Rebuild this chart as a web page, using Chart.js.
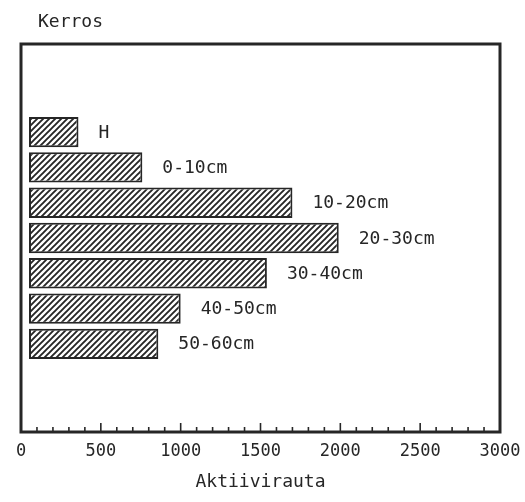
<!DOCTYPE html>
<html>
<head>
<meta charset="utf-8">
<script src="https://cdn.jsdelivr.net/npm/chart.js@4/dist/chart.umd.min.js"></script>
<style>
  html, body { margin: 0; padding: 0; background: #fff; }
  #wrap { width: 525px; height: 502px; }
</style>
</head>
<body>
<div id="wrap"><canvas id="chart" width="525" height="502"></canvas></div>
<script>
// Soil layers and their active iron content
const layers = ['H', '0-10cm', '10-20cm', '20-30cm', '30-40cm', '40-50cm', '50-60cm'];
const ironValues = [360, 760, 1700, 1990, 1540, 1000, 860];
const xTickValues = [0, 500, 1000, 1500, 2000, 2500, 3000];
const yTitle = 'Kerros';
const xTitle = 'Aktiivirauta';

// Empty slots above and below leave the blank space of the frame
const blankSlots = 2;
const categories = [
  ...Array(blankSlots).fill(''), ...layers, ...Array(blankSlots).fill('')
];
const barData = [
  ...Array(blankSlots).fill(null), ...ironValues, ...Array(blankSlots).fill(null)
];

const INK = '#262626';
const MONO = '"DejaVu Sans Mono", "Liberation Mono", monospace';

// Diagonal hatch fill
function makeHatch() {
  const s = 6;
  const c = document.createElement('canvas');
  c.width = s; c.height = s;
  const g = c.getContext('2d');
  g.fillStyle = '#fff';
  g.fillRect(0, 0, s, s);
  g.strokeStyle = INK;
  g.lineWidth = 1.9;
  g.beginPath();
  g.moveTo(-1, s + 1); g.lineTo(s + 1, -1);
  g.moveTo(-1, 1); g.lineTo(1, -1);
  g.moveTo(s - 1, s + 1); g.lineTo(s + 1, s - 1);
  g.stroke();
  return g.createPattern(c, 'repeat');
}
const hatch = makeHatch();

// Frame, inward ticks, bar labels and the vertical-axis caption
const decorations = {
  id: 'decorations',
  afterDatasetsDraw(chart) {
    const ctx = chart.ctx;
    const a = chart.chartArea;
    const xs = chart.scales.x;
    ctx.save();

    // inward tick marks every 100, longer every 500
    ctx.strokeStyle = INK;
    ctx.lineWidth = 1.6;
    for (let v = 100; v < 3000; v += 100) {
      const px = xs.getPixelForValue(v);
      const len = v % 500 === 0 ? 9 : 5;
      ctx.beginPath();
      ctx.moveTo(px, a.bottom);
      ctx.lineTo(px, a.bottom - len);
      ctx.stroke();
    }

    // frame
    ctx.lineWidth = 3;
    ctx.strokeRect(a.left, a.top, a.right - a.left, a.bottom - a.top);

    // layer names beside the bar ends
    ctx.fillStyle = INK;
    ctx.font = '18px ' + MONO;
    ctx.textAlign = 'left';
    ctx.textBaseline = 'middle';
    const meta = chart.getDatasetMeta(0);
    meta.data.forEach((el, i) => {
      if (barData[i] === null) return;
      ctx.fillText(categories[i], el.x + 20, el.y + 1);
    });

    // vertical-axis caption
    ctx.fillText(yTitle, a.left + 17, 22);
    ctx.restore();
  }
};

new Chart(document.getElementById('chart'), {
  type: 'bar',
  data: {
    labels: categories,
    datasets: [{
      data: barData,
      base: 50,
      backgroundColor: hatch,
      borderColor: INK,
      borderWidth: 2,
      borderSkipped: false,
      barPercentage: 0.86,
      categoryPercentage: 1.0
    }]
  },
  options: {
    indexAxis: 'y',
    responsive: false,
    animation: false,
    events: [],
    layout: { padding: { left: 21, right: 25, top: 44, bottom: 5 } },
    plugins: {
      legend: { display: false },
      tooltip: { enabled: false },
      title: { display: false }
    },
    scales: {
      y: { display: false },
      x: {
        type: 'linear',
        min: 0,
        max: 3000,
        afterBuildTicks(scale) {
          scale.ticks = xTickValues.map(v => ({ value: v }));
        },
        afterFit(scale) {
          // edge labels may overhang into the page margin
          scale.paddingLeft = 0;
          scale.paddingRight = 0;
        },
        grid: { display: false, drawTicks: false },
        border: { display: false },
        ticks: {
          color: INK,
          padding: 9,
          maxRotation: 0,
          autoSkip: false,
          font: { family: MONO, size: 17 },
          callback: v => String(v)
        },
        title: {
          display: true,
          text: xTitle,
          color: INK,
          font: { family: MONO, size: 18 },
          padding: { top: 1, bottom: 4 }
        }
      }
    }
  },
  plugins: [decorations]
});
</script>
</body>
</html>
